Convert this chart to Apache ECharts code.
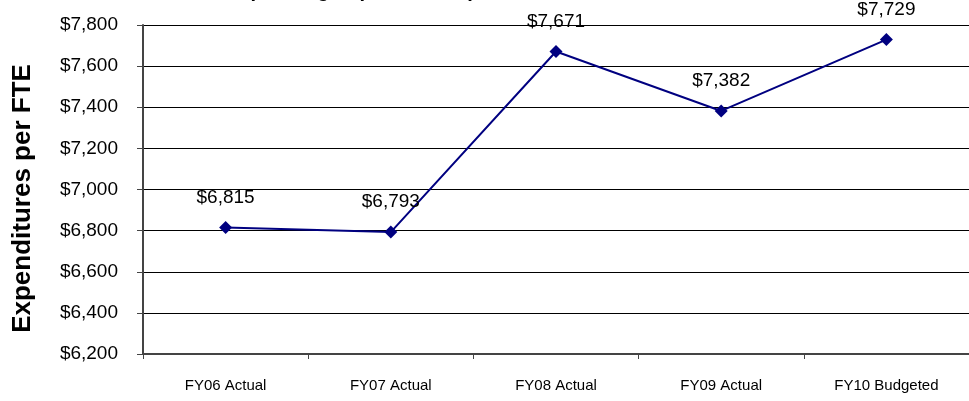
<!DOCTYPE html>
<html>
<head>
<meta charset="utf-8">
<script src="https://cdn.jsdelivr.net/npm/echarts@6/dist/echarts.min.js"></script>
<style>
  html, body { margin: 0; padding: 0; background: #fff; }
  #chart { width: 969px; height: 401px; }
</style>
</head>
<body>
<div id="chart"></div>
<script>
// 資料
var categories = ["FY06 Actual", "FY07 Actual", "FY08 Actual", "FY09 Actual", "FY10 Budgeted"];
var expenditures = [6815, 6793, 7671, 7382, 7729];
var yMin = 6200, yMax = 7800, yStep = 200;

function money(v) {
    return "$" + Number(v).toLocaleString("en-US");
}

var chart = echarts.init(document.getElementById("chart"), null, { renderer: "canvas" });
var option = {
    animation: false,
    title: {
        text: "Operating Expenditures per FTE, FY06 - FY10",
        left: 230,
        top: -24,
        textStyle: { fontFamily: "Liberation Sans", fontSize: 20, fontWeight: "bold", color: "#000" }
    },
    grid: { left: 143, right: -2, top: 25, bottom: 47, containLabel: false },
    xAxis: {
        type: "category",
        data: categories,
        boundaryGap: true,
        axisLine: { lineStyle: { color: "#444", width: 2 } },
        axisTick: { show: true, length: 5, lineStyle: { color: "#444" } },
        axisLabel: { fontFamily: "Liberation Sans", fontSize: 15, color: "#000", margin: 24 }
    },
    yAxis: {
        type: "value",
        min: yMin,
        max: yMax,
        interval: yStep,
        name: "Expenditures per FTE",
        nameLocation: "middle",
        nameGap: 107,
        nameRotate: 90,
        nameTextStyle: {
            fontFamily: "Liberation Sans", fontSize: 26, fontWeight: "bold", color: "#000",
            padding: [0, 18, 0, 0]
        },
        axisLine: { show: true, lineStyle: { color: "#444", width: 2 } },
        axisTick: { show: true, length: 6, lineStyle: { color: "#444" } },
        axisLabel: {
            fontFamily: "Liberation Sans", fontSize: 19, color: "#000", margin: 25,
            formatter: money
        },
        splitLine: { show: true, lineStyle: { color: "#000", width: 1 } }
    },
    series: [{
        type: "line",
        data: expenditures,
        symbol: "diamond",
        symbolSize: 13,
        itemStyle: { color: "#000080" },
        lineStyle: { color: "#000080", width: 2 },
        label: {
            show: true,
            position: "top",
            distance: 14,
            fontFamily: "Liberation Sans",
            fontSize: 19,
            color: "#000",
            formatter: function (p) { return money(p.value); }
        }
    }]
};
chart.setOption(option);
</script>
</body>
</html>
